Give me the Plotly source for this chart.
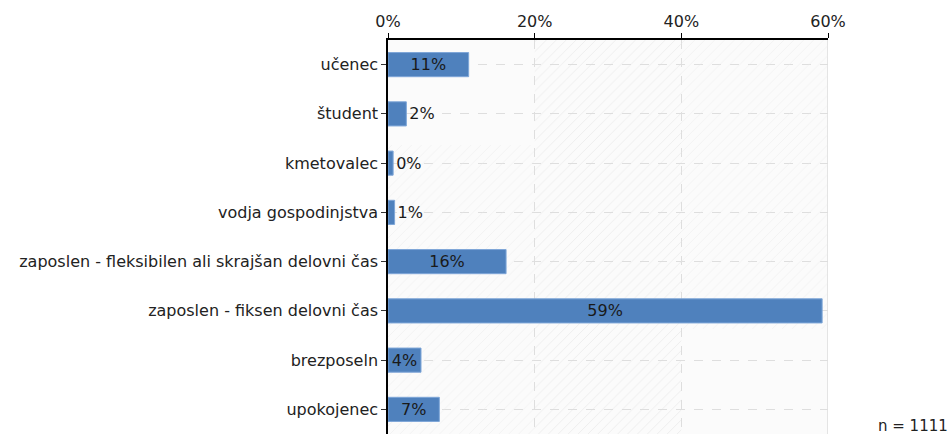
import plotly.graph_objects as go

categories = ["učenec", "študent", "kmetovalec", "vodja gospodinjstva",
              "zaposlen - fleksibilen ali skrajšan delovni čas",
              "zaposlen - fiksen delovni čas", "brezposeln", "upokojenec"]
values = [11.0, 2.5, 0.7, 0.9, 16.1, 59.2, 4.5, 7.0]
labels = ["11%", "2%", "0%", "1%", "16%", "59%", "4%", "7%"]
positions = ["outside" if v < 3 else "inside" for v in values]
tick_vals = [0, 20, 40, 60]
tick_text = ["0%", "20%", "40%", "60%"]
n_text = "n = 1111"

FONT = "DejaVu Sans"
FS = 16

fig = go.Figure()

# hatched background bands (primary numeric y axis, hidden)
band_starts = [0, 20, 40]
band_fg = ["#e6e6e6", "#dcdcdc", "#e6e6e6"]
for b0, fg in zip(band_starts, band_fg):
    fig.add_trace(go.Bar(
        x=[20], base=[b0], y=[0.5], orientation="h", width=[1],
        marker=dict(color="rgba(0,0,0,0)", line=dict(width=0),
                    pattern=dict(shape="/", fgcolor=fg, bgcolor="rgba(0,0,0,0)",
                                 size=7, solidity=0.12)),
        hoverinfo="skip", showlegend=False, yaxis="y", xaxis="x"))

fig.add_trace(go.Bar(
    x=values, y=categories, orientation="h", yaxis="y2", xaxis="x",
    width=0.49,
    marker=dict(color="#4F81BD", line=dict(color="#7EA6D8", width=1)),
    text=labels, textposition=positions, insidetextanchor="middle",
    constraintext="none",
    textfont=dict(family=FONT, size=FS, color="#1a1a1a"),
    cliponaxis=False, showlegend=False))

fig.update_layout(
    width=951, height=434,
    margin=dict(l=388, r=123, t=40, b=0),
    paper_bgcolor="white", plot_bgcolor="#fbfbfb",
    font=dict(family=FONT, size=FS, color="#222"),
    xaxis=dict(side="top", range=[0, 60], tickvals=tick_vals, ticktext=tick_text,
               showline=True, linecolor="black", linewidth=1.5,
               ticks="outside", ticklen=5, tickcolor="black",
               showgrid=True, gridcolor="#dedede", griddash="dash", gridwidth=1,
               zeroline=False, tickfont=dict(family=FONT, size=FS, color="#222")),
    yaxis=dict(range=[0, 1], visible=False, showgrid=False, zeroline=False),
    yaxis2=dict(overlaying="y", side="left", type="category",
                categoryorder="array", categoryarray=categories,
                range=[7.5, -0.5],
                showline=True, linecolor="black", linewidth=1.5,
                ticks="outside", ticklen=5, tickcolor="#333",
                showgrid=True, gridcolor="#dedede", griddash="dash", gridwidth=1,
                zeroline=False, tickfont=dict(family=FONT, size=FS, color="#222")),
    shapes=[dict(type="line", xref="x", yref="paper", x0=60, x1=60, y0=0, y1=1,
                 line=dict(color="#dcdcdc", width=1.5), layer="below")],
    annotations=[dict(text=n_text, xref="paper", yref="paper", x=1.277, y=0.02,
                      xanchor="right", yanchor="middle", showarrow=False,
                      font=dict(family=FONT, size=FS - 1, color="#222"))],
)

fig.write_html(
    "out.html",
    config={"displayModeBar": False},
    post_script="document.body.style.margin='0';document.body.style.overflow='hidden';",
)
